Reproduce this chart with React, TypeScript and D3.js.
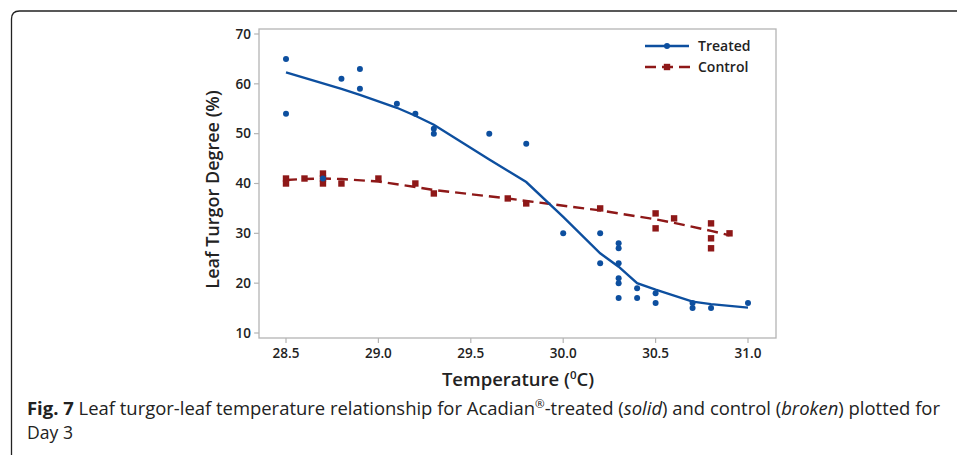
import React from "react";
import * as d3 from "d3";

const treatedX = [28.5, 28.5, 28.7, 28.8, 28.9, 28.9, 29.1, 29.2, 29.3, 29.3, 29.6, 29.8, 30.0, 30.2, 30.2, 30.3, 30.3, 30.3, 30.3, 30.3, 30.3, 30.4, 30.4, 30.5, 30.5, 30.7, 30.7, 30.8, 31.0];
const treatedY = [65, 54, 41, 61, 63, 59, 56, 54, 51, 50, 50, 48, 30, 30, 24, 28, 27, 24, 21, 20, 17, 19, 17, 18, 16, 16, 15, 15, 16];

const controlX = [28.5, 28.5, 28.6, 28.7, 28.7, 28.7, 28.8, 29.0, 29.2, 29.3, 29.7, 29.8, 30.2, 30.5, 30.5, 30.6, 30.8, 30.8, 30.8, 30.9];
const controlY = [41, 40, 41, 42, 41, 40, 40, 41, 40, 38, 37, 36, 35, 34, 31, 33, 32, 29, 27, 30];

const treatedFitX = [28.5, 28.8, 28.9, 29.1, 29.2, 29.3, 29.6, 29.8, 30.0, 30.2, 30.3, 30.4, 30.5, 30.7, 30.8, 31.0];
const treatedFitY = [62.3, 59.0, 57.8, 55.2, 53.6, 51.8, 44.8, 40.3, 33.3, 26.0, 23.3, 20.0, 18.7, 16.3, 15.8, 15.1];

const controlFitX = [28.5, 28.6, 28.7, 28.8, 29.0, 29.2, 29.3, 29.7, 29.8, 30.2, 30.5, 30.6, 30.8, 30.9];
const controlFitY = [40.7, 40.9, 41.0, 40.9, 40.4, 39.3, 38.7, 37.0, 36.5, 34.6, 32.8, 32.1, 30.5, 29.6];

const xTicks = [28.5, 29.0, 29.5, 30.0, 30.5, 31.0];
const yTicks = [10, 20, 30, 40, 50, 60, 70];

const BLUE = "#0d4f9f";
const RED = "#8e1818";
const FONT = "'Open Sans', 'DejaVu Sans', sans-serif";

export default function App() {
  const x = d3.scaleLinear().domain([28.5, 31.0]).range([286, 748]);
  const y = d3.scaleLinear().domain([10, 70]).range([333, 34]);
  const frame = { left: 259, right: 776, top: 29, bottom: 338 };

  const line = d3
    .line<[number, number]>()
    .x((d) => x(d[0]))
    .y((d) => y(d[1]));

  const tFit = line(treatedFitX.map((v, i) => [v, treatedFitY[i]] as [number, number])) || "";
  const cFit = line(controlFitX.map((v, i) => [v, controlFitY[i]] as [number, number])) || "";

  return (
    <svg
      width={957}
      height={455}
      style={{ position: "absolute", left: 0, top: 0 }}
      fontFamily={FONT}
    >
      <rect x={0} y={0} width={957} height={455} fill="#fff" />
      {/* outer rounded border */}
      <path
        d="M 11.5 470 L 11.5 19 Q 11.5 11 19.5 11 L 960 11"
        fill="none"
        stroke="#222"
        strokeWidth={1.3}
      />
      {/* plot frame */}
      <rect
        x={frame.left}
        y={frame.top}
        width={frame.right - frame.left}
        height={frame.bottom - frame.top}
        fill="none"
        stroke="#b4b4b4"
        strokeWidth={1.3}
      />
      {/* y ticks */}
      {yTicks.map((t) => (
        <g key={"y" + t}>
          <line x1={frame.left - 5} x2={frame.left} y1={y(t)} y2={y(t)} stroke="#b4b4b4" strokeWidth={1.2} />
          <text x={frame.left - 8} y={y(t)} dy="0.35em" textAnchor="end" fontSize={13.5} fontWeight={600} fill="#222">
            {t}
          </text>
        </g>
      ))}
      {/* x ticks */}
      {xTicks.map((t) => (
        <g key={"x" + t}>
          <line x1={x(t)} x2={x(t)} y1={frame.bottom} y2={frame.bottom + 5} stroke="#b4b4b4" strokeWidth={1.2} />
          <text x={x(t)} y={frame.bottom + 20} textAnchor="middle" fontSize={13.5} fontWeight={600} fill="#222">
            {t.toFixed(1)}
          </text>
        </g>
      ))}
      {/* axis titles */}
      <text
        transform={`translate(219, ${(frame.top + frame.bottom) / 2 + 6}) rotate(-90)`}
        textAnchor="middle"
        fontSize={18}
        fontWeight={600}
        fill="#222"
      >
        Leaf Turgor Degree (%)
      </text>
      <text x={518} y={386} textAnchor="middle" fontSize={18.5} fontWeight={600} fill="#222">
        Temperature (<tspan dy={-7} fontSize={11.5}>0</tspan>
        <tspan dy={7}>C)</tspan>
      </text>

      {/* control */}
      <path d={cFit} fill="none" stroke={RED} strokeWidth={2.4} strokeDasharray="11,6" />
      {controlX.map((v, i) => (
        <rect key={"c" + i} x={x(v) - 3.2} y={y(controlY[i]) - 3.2} width={6.4} height={6.4} fill={RED} />
      ))}
      {/* treated */}
      <path d={tFit} fill="none" stroke={BLUE} strokeWidth={2.4} />
      {treatedX.map((v, i) => (
        <circle key={"t" + i} cx={x(v)} cy={y(treatedY[i])} r={3} fill={BLUE} />
      ))}

      {/* legend */}
      <line x1={645} x2={689} y1={46} y2={46} stroke={BLUE} strokeWidth={2.4} />
      <circle cx={667} cy={46} r={3} fill={BLUE} />
      <text x={698} y={46} dy="0.35em" fontSize={14} fontWeight={600} fill="#222">
        Treated
      </text>
      <line x1={645} x2={690} y1={67} y2={67} stroke={RED} strokeWidth={2.4} strokeDasharray="11,6" />
      <rect x={663.8} y={63.8} width={6.4} height={6.4} fill={RED} />
      <text x={698} y={67} dy="0.35em" fontSize={14} fontWeight={600} fill="#222">
        Control
      </text>

      {/* caption */}
      <text x={27} y={415} fontSize={17.5} fill="#222" textLength={913} lengthAdjust="spacingAndGlyphs">
        <tspan fontWeight={700}>Fig. 7</tspan>
        <tspan>{"  Leaf turgor-leaf temperature relationship for Acadian"}</tspan>
        <tspan dy={-7} fontSize={11}>®</tspan>
        <tspan dy={7}>-treated (</tspan>
        <tspan fontStyle="italic">solid</tspan>
        <tspan>) and control (</tspan>
        <tspan fontStyle="italic">broken</tspan>
        <tspan>) plotted for</tspan>
      </text>
      <text x={27} y={439} fontSize={17.5} fill="#222" textLength={46} lengthAdjust="spacingAndGlyphs">
        Day 3
      </text>
    </svg>
  );
}
